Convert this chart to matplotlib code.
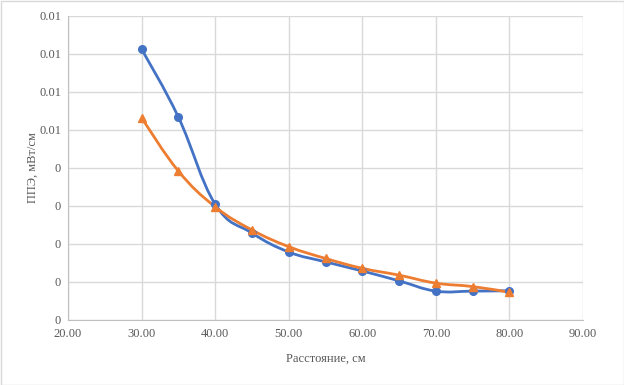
import matplotlib
matplotlib.use("Agg")
import matplotlib.pyplot as plt
import numpy as np
from matplotlib.path import Path
from matplotlib.patches import PathPatch, Rectangle

plt.rcParams['font.family'] = ['Liberation Serif', 'DejaVu Serif']

distance = [30, 35, 40, 45, 50, 55, 60, 65, 70, 75, 80]
series_blue = [0.00713, 0.00534, 0.00305, 0.00229, 0.00179, 0.00153, 0.00129, 0.00103, 0.00076, 0.00076, 0.00077]
series_orange = [0.00532, 0.00392, 0.00298, 0.00237, 0.00193, 0.00162, 0.00136, 0.00118, 0.00097, 0.00088, 0.00073]
x_ticks = [20, 30, 40, 50, 60, 70, 80, 90]
x_tick_labels = ["20.00", "30.00", "40.00", "50.00", "60.00", "70.00", "80.00", "90.00"]
y_ticks = [0, 0.001, 0.002, 0.003, 0.004, 0.005, 0.006, 0.007, 0.008]
y_tick_labels = ["0", "0", "0", "0", "0", "0.01", "0.01", "0.01", "0.01"]

BLUE = "#4472C4"
ORANGE = "#ED7D31"
TXT = "#595959"


def smooth_path(x, y, tension=0.2):
    x = np.asarray(x, float); y = np.asarray(y, float)
    n = len(x)
    verts = [(x[0], y[0])]
    codes = [Path.MOVETO]
    for i in range(n - 1):
        p0 = np.array([x[max(i - 1, 0)], y[max(i - 1, 0)]])
        p1 = np.array([x[i], y[i]])
        p2 = np.array([x[i + 1], y[i + 1]])
        p3 = np.array([x[min(i + 2, n - 1)], y[min(i + 2, n - 1)]])
        c1 = p1 + (p2 - p0) * tension
        c2 = p2 - (p3 - p1) * tension
        verts += [tuple(c1), tuple(c2), tuple(p2)]
        codes += [Path.CURVE4] * 3
    return Path(verts, codes)


fig = plt.figure(figsize=(6.24, 3.85), dpi=100)
ax = fig.add_axes([68/624, 1 - 320/385, (583-68)/624, (320-16)/385])

fig.patches.append(Rectangle((0.5/624, 0.5/385), 1 - 1/624, 1 - 1/385, transform=fig.transFigure,
                             fill=False, edgecolor="#d9d9d9", linewidth=1))

for ys, col, mk in [(series_blue, BLUE, 'o'), (series_orange, ORANGE, '^')]:
    ax.add_patch(PathPatch(smooth_path(distance, ys), facecolor='none', edgecolor=col, linewidth=2, zorder=3))
    ax.plot(distance, ys, linestyle='none', marker=mk, color=col, markersize=5.5, zorder=4)

ax.set_xlim(20, 90)
ax.set_ylim(0, 0.008)
ax.set_xticks(x_ticks)
ax.set_xticklabels(x_tick_labels)
ax.set_yticks(y_ticks)
ax.set_yticklabels(y_tick_labels)
ax.grid(True, color="#d9d9d9", linewidth=1)
ax.set_axisbelow(True)
for s in ['top', 'right']:
    ax.spines[s].set_visible(False)
for s in ['left', 'bottom']:
    ax.spines[s].set_color("#bfbfbf")
ax.tick_params(axis='x', length=0, colors=TXT, labelsize=9, pad=6)
ax.tick_params(axis='y', length=0, colors=TXT, labelsize=9, pad=5)
ax.set_xlabel("Расстояние, см", color=TXT, fontsize=9, labelpad=9)
ax.set_ylabel("ППЭ, мВт/см", color=TXT, fontsize=9, labelpad=0)

fig.savefig("out.png", dpi=100)
